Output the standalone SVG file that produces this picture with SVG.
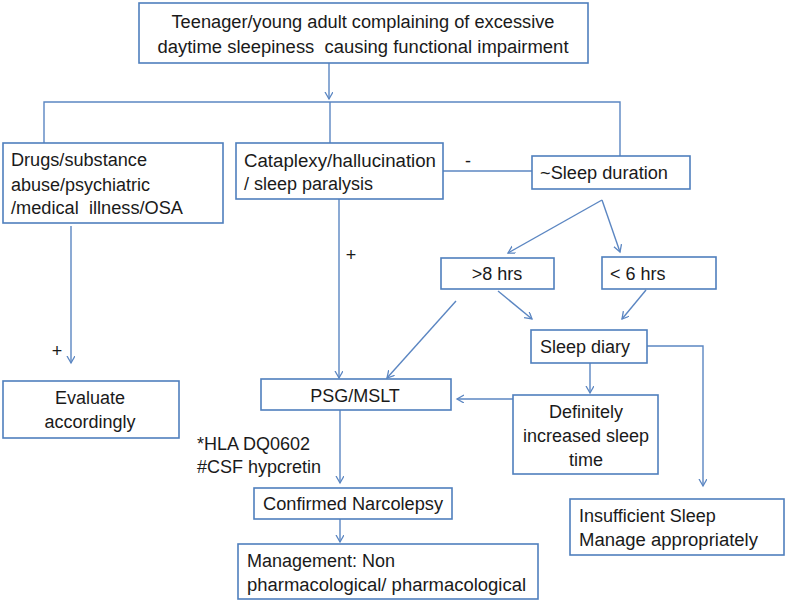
<svg xmlns="http://www.w3.org/2000/svg" width="787" height="602" viewBox="0 0 787 602">
<defs>
<marker id="ah" markerWidth="10" markerHeight="10" refX="7" refY="4" orient="auto" markerUnits="userSpaceOnUse">
<path d="M0,0 L7,4 L0,8" fill="none" stroke="#5b86c2" stroke-width="1.3"/>
</marker>
<style>
.box{fill:#fff;stroke:#4f7fbd;stroke-width:1.6}
.ln{fill:none;stroke:#5b86c2;stroke-width:1.4}
.ar{fill:none;stroke:#5b86c2;stroke-width:1.4;marker-end:url(#ah)}
text{font-family:"Liberation Sans",Arial,sans-serif;font-size:18px;fill:#1a1a1a;white-space:pre}
.c{text-anchor:middle}
</style>
</defs>
<rect width="787" height="602" fill="#fff"/>
<g id="connectors">
<line class="ar" x1="329" y1="63" x2="329" y2="99"/>
<polyline class="ln" points="44,143 44,102 620,102 620,156"/>
<line class="ln" x1="330" y1="102" x2="330" y2="143"/>
<line class="ln" x1="443" y1="171" x2="532" y2="171"/>
<line class="ar" x1="71" y1="226" x2="71" y2="363"/>
<line class="ar" x1="339" y1="199" x2="339" y2="378"/>
<line class="ar" x1="602" y1="200" x2="508" y2="253"/>
<line class="ar" x1="602" y1="200" x2="620" y2="252"/>
<line class="ar" x1="456" y1="301" x2="387" y2="378"/>
<line class="ar" x1="498" y1="291" x2="532" y2="319"/>
<line class="ar" x1="646" y1="290" x2="622" y2="319"/>
<line class="ar" x1="590" y1="363" x2="590" y2="393"/>
<polyline class="ar" points="647,346 703,346 703,486"/>
<line class="ar" x1="513" y1="399" x2="457" y2="399"/>
<line class="ar" x1="340" y1="410" x2="340" y2="483"/>
<line class="ar" x1="340" y1="519" x2="340" y2="542"/>
</g>
<g id="labels">
<text x="468" y="167" class="c">-</text>
<text x="351" y="261" class="c">+</text>
<text x="57" y="357" class="c">+</text>
<text x="197" y="450">*HLA DQ0602</text>
<text x="197" y="473">#CSF hypcretin</text>
</g>
<g id="n-top">
<rect class="box" x="139" y="3" width="449" height="60"/>
<text x="363" y="28" class="c" textLength="383" lengthAdjust="spacingAndGlyphs">Teenager/young adult complaining of excessive</text>
<text x="363" y="53" class="c" textLength="411" lengthAdjust="spacingAndGlyphs">daytime sleepiness  causing functional impairment</text>
</g>
<g id="n-drugs">
<rect class="box" x="3" y="143" width="220" height="80"/>
<text x="11" y="166" textLength="136" lengthAdjust="spacingAndGlyphs">Drugs/substance</text>
<text x="11" y="191">abuse/psychiatric</text>
<text x="11" y="214" textLength="172" lengthAdjust="spacingAndGlyphs">/medical  illness/OSA</text>
</g>
<g id="n-cataplexy">
<rect class="box" x="236" y="143" width="207" height="56"/>
<text x="244" y="167" textLength="192" lengthAdjust="spacingAndGlyphs">Cataplexy/hallucination</text>
<text x="244" y="190">/ sleep paralysis</text>
</g>
<g id="n-duration">
<rect class="box" x="532" y="156" width="158" height="33"/>
<text x="540" y="179" textLength="128" lengthAdjust="spacingAndGlyphs">~Sleep duration</text>
</g>
<g id="n-gt8">
<rect class="box" x="441" y="258" width="113" height="31"/>
<text x="497" y="280" class="c">&gt;8 hrs</text>
</g>
<g id="n-lt6">
<rect class="box" x="602" y="257" width="114" height="32"/>
<text x="610" y="280">&lt; 6 hrs</text>
</g>
<g id="n-diary">
<rect class="box" x="531" y="330" width="116" height="33"/>
<text x="540" y="353">Sleep diary</text>
</g>
<g id="n-evaluate">
<rect class="box" x="3" y="381" width="176" height="57"/>
<text x="90" y="404" class="c">Evaluate</text>
<text x="90" y="428" class="c">accordingly</text>
</g>
<g id="n-psg">
<rect class="box" x="261" y="379" width="190" height="31"/>
<text x="355" y="402" class="c">PSG/MSLT</text>
</g>
<g id="n-definitely">
<rect class="box" x="513" y="395" width="145" height="79"/>
<text x="586" y="418" class="c">Definitely</text>
<text x="586" y="442" class="c">increased sleep</text>
<text x="586" y="466" class="c">time</text>
</g>
<g id="n-confirmed">
<rect class="box" x="254" y="488" width="198" height="31"/>
<text x="263" y="510" textLength="180" lengthAdjust="spacingAndGlyphs">Confirmed Narcolepsy</text>
</g>
<g id="n-management">
<rect class="box" x="238" y="544" width="300" height="55"/>
<text x="247" y="567">Management: Non</text>
<text x="247" y="591" textLength="279" lengthAdjust="spacingAndGlyphs">pharmacological/ pharmacological</text>
</g>
<g id="n-insufficient">
<rect class="box" x="570" y="499" width="214" height="56"/>
<text x="579" y="522">Insufficient Sleep</text>
<text x="579" y="546" textLength="179" lengthAdjust="spacingAndGlyphs">Manage appropriately</text>
</g>
</svg>
